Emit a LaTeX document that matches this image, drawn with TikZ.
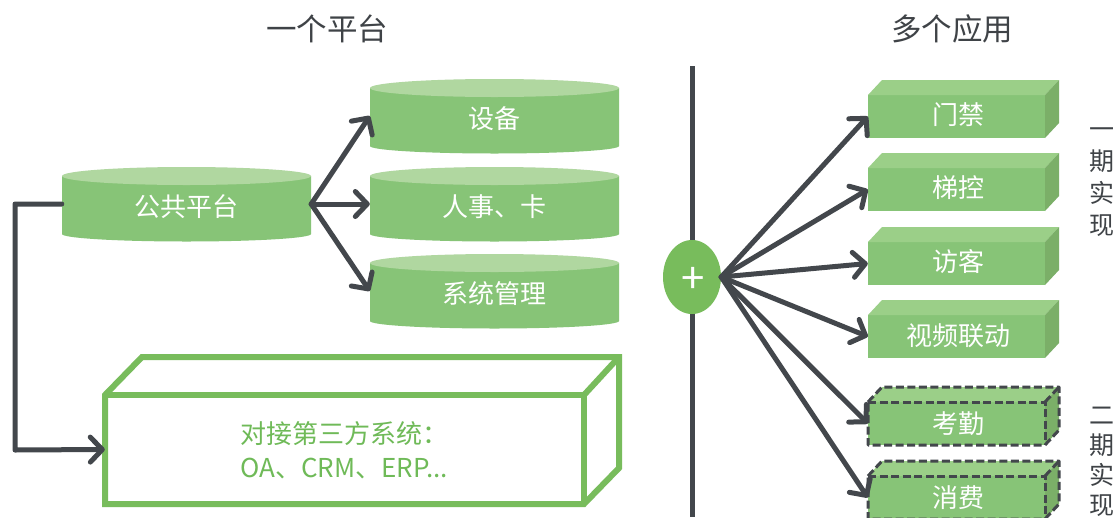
\documentclass[tikz,border=0pt]{standalone}
\usepackage{fontspec}
\setmainfont{Noto Sans CJK SC}
\usetikzlibrary{arrows.meta,calc,shapes.geometric}
\definecolor{darkline}{HTML}{43474C}
\definecolor{gfill}{HTML}{87C477}
\definecolor{gtop}{HTML}{B0D7A0}
\definecolor{gtopbox}{HTML}{9BCF88}
\definecolor{gside}{HTML}{7BAF68}
\definecolor{gline}{HTML}{78BC5C}
\definecolor{gtxt}{HTML}{6FBA58}
\definecolor{ttxt}{HTML}{3F4347}
\tikzset{
  x=1pt,y=-1pt,
  conn/.style={draw=darkline,line width=5pt,line cap=round,line join=round},
  arr/.style={conn,-{Straight Barb[length=12pt,width=25pt,round]}},
  lab/.style={text=white,font=\fontsize{26}{30}\selectfont,inner sep=0pt,align=center},
  title/.style={text=ttxt,font=\fontsize{30.5}{36}\selectfont,inner sep=0pt},
  side/.style={text=ttxt,font=\fontsize{25}{30}\selectfont,inner sep=0pt},
  dashbox/.style={draw=darkline,line width=3pt,dash pattern=on 8pt off 3.5pt},
}
% \cyl{name}{centre y}{centre x}{text}
\newcommand{\cyl}[4]{%
  \fill[gfill] (#3-124.5,#2-28) -- (#3-124.5,#2+30) arc[start angle=180,end angle=360,x radius=124.5pt,y radius=7.5pt] -- (#3+124.5,#2-28) -- cycle;
  \fill[gtop] (#3,#2-28) ellipse[x radius=124.5pt,y radius=9pt];
  \node[minimum width=249pt,minimum height=58pt,inner sep=0pt] (#1) at (#3,#2) {};
  \node[lab,yshift=-3pt] (#1t) at (#1) {#4};
}
% \prism{name}{front top y}{text}{extra drawing}{text shift}
\newcommand{\prism}[5]{%
  \fill[gfill] (868,#2) rectangle (1045,#2+43);
  \fill[gtopbox] (868,#2) -- (882,#2-15) -- (1059,#2-15) -- (1045,#2) -- cycle;
  \fill[gside] (1045,#2) -- (1059,#2-15) -- (1059,#2+28) -- (1045,#2+43) -- cycle;
  #4
  \node[minimum width=177pt,minimum height=43pt,inner sep=0pt] (#1) at (956.5,#2+21.5) {};
  \node[lab,yshift=#5,xshift=1.5pt] (#1t) at (#1) {#3};
}
\newcommand{\dashes}[1]{%
  \draw[dashbox,line join=round] (868,#1) -- (882,#1-15) -- (1059,#1-15) -- (1059,#1+28) -- (1045,#1+43) -- (868,#1+43) -- cycle;
  \draw[dashbox] (868,#1) -- (1045,#1) -- (1045,#1+43);
  \draw[dashbox] (1045,#1) -- (1059,#1-15);
}
\begin{document}
\begin{tikzpicture}
\useasboundingbox (0,0) rectangle (1116,517);
\fill[white] (0,0) rectangle (1116,517);

\node[title] (t1) at (327,29) {一个平台};
\node[title] (t2) at (952,29) {多个应用};

% cylinders
\cyl{pub}{204}{186.5}{公共平台}
\cyl{dev}{116}{494.5}{设备}
\cyl{hr}{204}{494.5}{人事、卡}
\cyl{sys}{291}{494.5}{系统管理}

% third-party box
\draw[gline,line width=6pt,line join=miter] (105,395) -- (142,357) -- (619,357) -- (619,468) -- (584,504) -- (105,504) -- cycle;
\draw[gline,line width=6pt] (105,395) -- (584,395) -- (584,504);
\draw[gline,line width=6pt] (584,395) -- (619,357);
\node[minimum width=479pt,minimum height=109pt,inner sep=0pt] (third) at (344.5,449.5) {};
\node[text=gtxt,font=\fontsize{26}{34}\selectfont,align=left,inner sep=0pt,anchor=west] (thirdtxt) at (240,450) {对接第三方系统：\\OA、CRM、ERP...};

% prisms
\prism{door}{95}{门禁}{}{2pt}
\prism{lift}{168}{梯控}{}{2pt}
\prism{visit}{242}{访客}{}{2pt}
\prism{video}{315}{视频联动}{}{1pt}
\prism{att}{402}{考勤}{\dashes{402}}{0pt}
\prism{pay}{476}{消费}{\dashes{476}}{0pt}

% divider and hub
\coordinate (vtop) at (692,66);
\coordinate (vbot) at (692,517);
\draw[draw=darkline,line width=5pt] (vtop) -- (vbot);
\node[ellipse,fill=gline,minimum width=58pt,minimum height=74pt,inner sep=0pt] (hub) at (692,277) {};
\node[text=white,font=\fontsize{42}{42}\selectfont,inner sep=0pt] (plus) at (693,280) {+};

% connectors
\foreach \t in {dev,hr,sys} \draw[arr] (pub.east) -- (\t.west);
\coordinate (c1) at (15,204);
\coordinate (c2) at (15,450);
\draw[arr] (pub.west) -- (c1) -- (c2) -- (third.west);
\foreach \t in {door,lift,visit,video,att,pay} \draw[arr] (hub.east) -- (\t.west);

% side labels
\node[side,align=center] (s1) at (1102,182) {一\\[2pt]期\\[2pt]实\\[2pt]现};
\node[side,align=center] (s2) at (1102,462) {二\\期\\实\\现};
\end{tikzpicture}
\end{document}
